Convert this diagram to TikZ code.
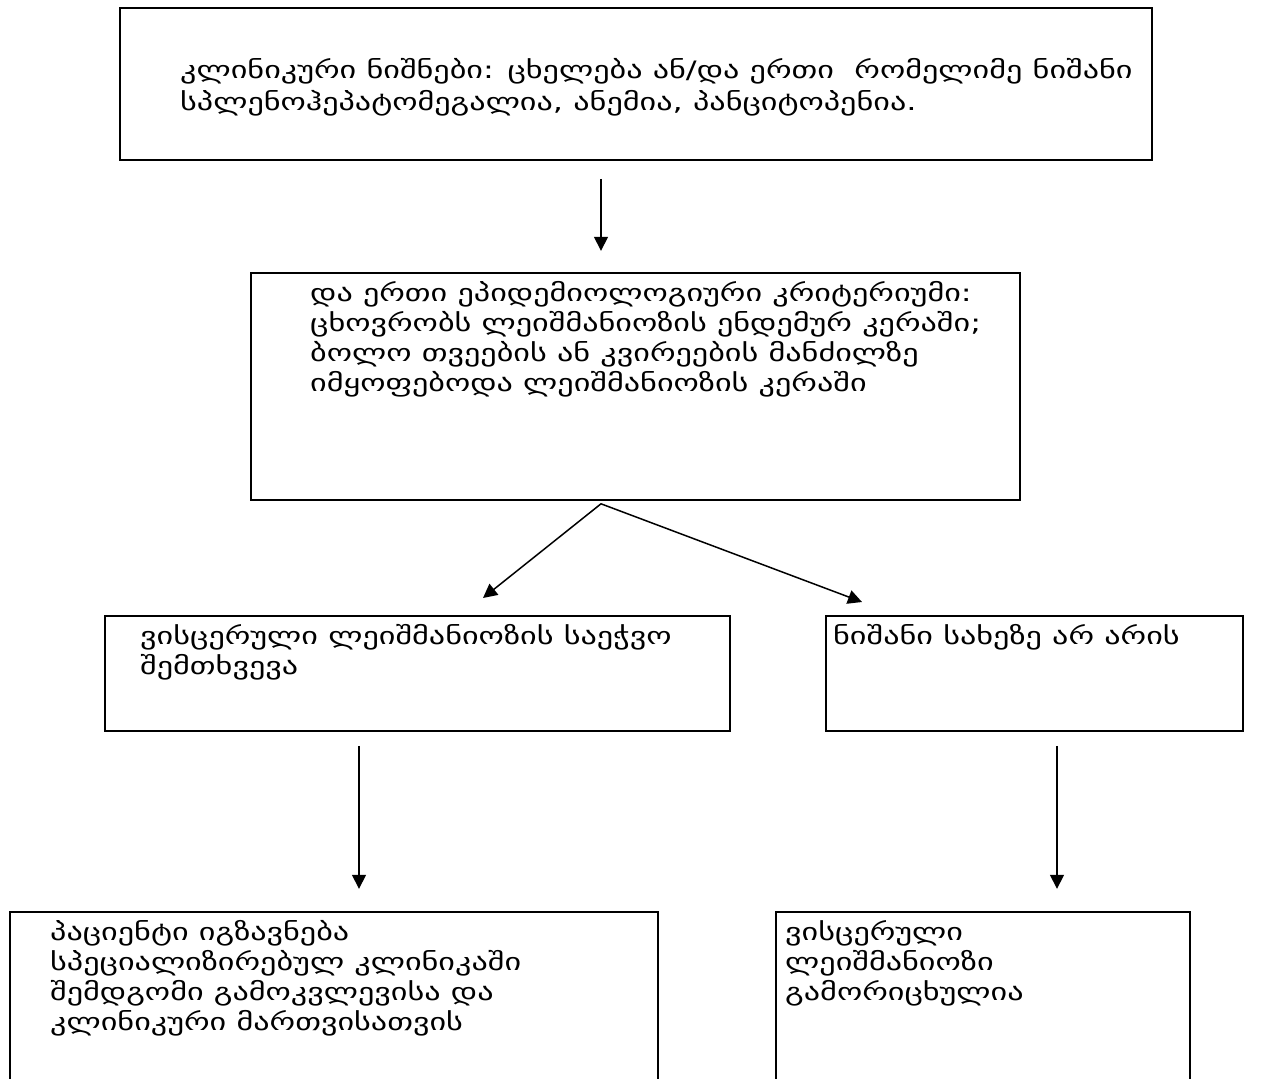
\documentclass[tikz,border=0pt]{standalone}
\usepackage{fontspec}
\newfontfamily\geo[FakeStretch=1.34]{DejaVu Sans}
\usetikzlibrary{arrows.meta,calc}
\begin{document}
\begin{tikzpicture}[x=1pt,y=-1pt,
  box/.style={draw,line width=1.6pt,minimum width=#1,inner sep=0pt},
  txt/.style={anchor=north west,inner sep=0pt,align=left,font=\geo\fontsize{24}{30}\selectfont},
  arr/.style={line width=1.5pt,-{Triangle[length=14pt,width=14pt]}}]
\useasboundingbox (0,0) rectangle (1278,1079);
\clip (0,0) rectangle (1278,1079);
\node[box=1032pt,minimum height=152pt] (top) at (636,84) {};
\node[box=769pt,minimum height=227pt] (mid) at (635.5,386.5) {};
\node[box=625pt,minimum height=115pt] (lm) at (417.5,673.5) {};
\node[box=417pt,minimum height=115pt] (rm) at (1034.5,673.5) {};
\node[box=648pt,minimum height=188pt] (bl) at (334,1006) {};
\node[box=414pt,minimum height=188pt] (br) at (983,1006) {};
\node[txt] (ttop) at (180,58) {კლინიკური ნიშნები: ცხელება ან/და ერთი\ \ რომელიმე ნიშანი\\[2pt]სპლენოჰეპატომეგალია, ანემია, პანციტოპენია.};
\node[txt] (tmid) at (310,281) {და ერთი ეპიდემიოლოგიური კრიტერიუმი:\\ცხოვრობს ლეიშმანიოზის ენდემურ კერაში;\\ბოლო თვეების ან კვირეების მანძილზე\\იმყოფებოდა ლეიშმანიოზის კერაში};
\node[txt] (tlm) at (140,624) {ვისცერული ლეიშმანიოზის საეჭვო\\შემთხვევა};
\node[txt] (trm) at (833,624) {ნიშანი სახეზე არ არის};
\node[txt] (tbl) at (50,920) {პაციენტი იგზავნება\\სპეციალიზირებულ კლინიკაში\\შემდგომი გამოკვლევისა და\\კლინიკური მართვისათვის};
\node[txt] (tbr) at (785,920) {ვისცერული\\ლეიშმანიოზი\\გამორიცხულია};
\coordinate (a1s) at ($(top.south)+(-35,18)$);
\coordinate (a1e) at ($(top.south)+(-35,90)$);
\coordinate (a2s) at ($(mid.south)+(-34.5,3)$);
\coordinate (a2l) at (483,598);
\coordinate (a2r) at (862,602);
\coordinate (a3s) at ($(lm.south)+(-58.5,14)$);
\coordinate (a3e) at ($(lm.south)+(-58.5,157)$);
\coordinate (a4s) at ($(rm.south)+(22.5,14)$);
\coordinate (a4e) at ($(rm.south)+(22.5,157)$);
\draw[arr] (a1s) -- (a1e);
\draw[arr] (a2s) -- (a2l);
\draw[arr] (a2s) -- (a2r);
\draw[arr] (a3s) -- (a3e);
\draw[arr] (a4s) -- (a4e);
\end{tikzpicture}
\end{document}
